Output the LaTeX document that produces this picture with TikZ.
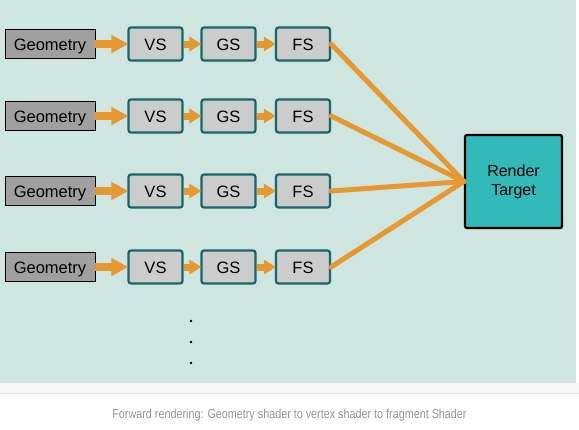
\documentclass[tikz,border=0pt]{standalone}
\usepackage{fontspec}
\setmainfont{Liberation Sans}
\newfontfamily\capfont[FakeStretch=0.83]{Liberation Sans}
\usetikzlibrary{arrows.meta}
\definecolor{bgmint}{RGB}{207,229,223}
\definecolor{stripgray}{RGB}{248,248,248}
\definecolor{rulegray}{RGB}{225,225,225}
\definecolor{stagegray}{RGB}{204,204,204}
\definecolor{geogray}{RGB}{160,160,160}
\definecolor{stageteal}{RGB}{22,104,104}
\definecolor{targetteal}{RGB}{50,186,186}
\definecolor{flowor}{RGB}{230,152,50}
\definecolor{capgray}{RGB}{150,150,150}

\tikzset{
  geobox/.style={draw=black, line width=0.8pt, fill=geogray, minimum width=90pt, minimum height=29pt, inner sep=0pt, text height=12pt, text depth=0pt},
  stagebox/.style={draw=stageteal, line width=2.2pt, fill=stagegray, rounded corners=2.5pt, minimum width=54pt, minimum height=33pt, inner sep=0pt, text height=12pt, text depth=0pt},
  targetbox/.style={draw=black, line width=2.2pt, fill=targetteal, rounded corners=2pt, minimum width=97pt, minimum height=93pt, align=center, inner sep=0pt, font=\fontsize{16}{19}\selectfont},
  bigflow/.style={draw=flowor, line width=7.5pt, -{Triangle[length=17pt, width=17pt]}, shorten >=-1pt},
  flow/.style={draw=flowor, line width=7pt, -{Triangle[length=12pt, width=14pt]}, shorten >=-1pt},
  feed/.style={draw=flowor, line width=5pt, line cap=round},
  caption/.style={text=capgray, font=\capfont\fontsize{13}{15}\selectfont}
}

\begin{document}
\begin{tikzpicture}[x=1pt, y=-1pt, font=\fontsize{16.5}{19}\selectfont]
  \useasboundingbox (0,0) rectangle (579,429);
  \fill[white] (0,0) rectangle (579,429);
  \fill[bgmint] (0,0) rectangle (576,383);
  \fill[stripgray] (0,383) rectangle (579,393);
  \draw[rulegray] (0,393.5) -- (579,393.5);

  \node[targetbox] (rt) at (513.5,181.5) {Render\\Target};

  % four pipelines
  \foreach \r/\y in {1/44, 2/116, 3/191, 4/267} {
    \node[geobox] (geo\r) at (50,\y) {Geometry};
    \node[stagebox] (vs\r) at (155.5,\y) {VS};
    \node[stagebox] (gs\r) at (228.5,\y) {GS};
    \node[stagebox] (fs\r) at (303,\y) {FS};
    \draw[bigflow] (geo\r) -- (vs\r);
    \draw[flow] (vs\r) -- (gs\r);
    \draw[flow] (gs\r) -- (fs\r);
    \draw[feed] (fs\r.east) -- (rt.west);
  }

  % more pipelines
  \foreach \y in {321, 342, 363}
    \fill (191,\y) circle (1.3pt);

  \node[caption] (cap) at (289.5,415) {Forward rendering: Geometry shader to vertex shader to fragment Shader};
\end{tikzpicture}
\end{document}
